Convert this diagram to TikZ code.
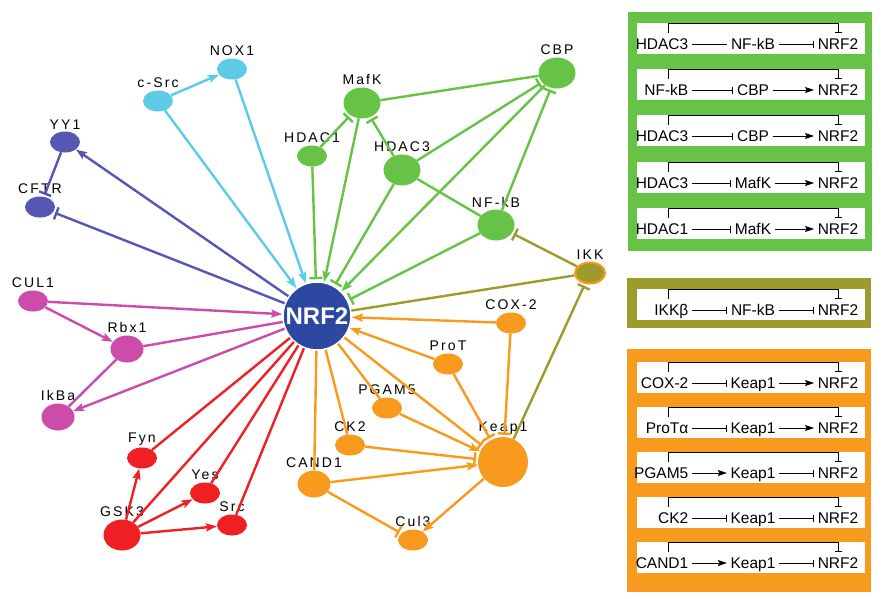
\documentclass[tikz,border=0pt]{standalone}
\usepackage{fontspec}
\setmainfont{Liberation Sans}
\newfontfamily\lblfont[LetterSpace=15]{Liberation Sans}
\usetikzlibrary{shapes.geometric, arrows.meta}

\definecolor{cyanC}{HTML}{5DCBE6}
\definecolor{blueC}{HTML}{5557B3}
\definecolor{greenC}{HTML}{67C345}
\definecolor{magC}{HTML}{CD4BA9}
\definecolor{redC}{HTML}{EE2024}
\definecolor{orangeC}{HTML}{F89A1D}
\definecolor{oliveC}{HTML}{9C9B2B}
\definecolor{nrfC}{HTML}{2C48A1}

\begin{document}
\begin{tikzpicture}[x=1pt, y=-1pt]
        % Styles
        \tikzstyle{lbl} = [font=\lblfont\fontsize{14}{16}\selectfont, inner sep=2pt]
        \tikzstyle{gene} = [ellipse, inner sep=0pt, label distance=1pt]
        \tikzstyle{sgene} = [gene, minimum width=30pt, minimum height=21pt]
        \tikzstyle{mgene} = [gene, minimum width=33pt, minimum height=27pt]
        \tikzstyle{lgene} = [gene, minimum width=37pt, minimum height=31pt]
        \tikzstyle{edge} = [line width=2.4pt]
        \tikzstyle{act} = [edge, -{Stealth[length=11pt, width=8pt, inset=2pt]}]
        \tikzstyle{inh} = [edge, -{Bar[width=13pt]}, shorten >=2pt]
        \tikzstyle{lnk} = [edge]
        \tikzstyle{rtxt} = [font=\fontsize{15.5}{17}\selectfont, inner sep=3.5pt, text height=11pt, text depth=0pt]
        \tikzstyle{rlnk} = [line width=0.9pt]
        \tikzstyle{ract} = [rlnk, -{Stealth[length=9pt, width=6pt, inset=1.5pt]}]
        \tikzstyle{rinh} = [rlnk, -{Bar[width=7pt]}]

        \useasboundingbox (0,0) rectangle (884,598);

        % Centre
        \node[circle, fill=nrfC, draw=white, line width=1.5pt, minimum size=68pt, inner sep=0pt,
              text=white, font=\fontsize{24}{26}\selectfont\bfseries] (nrf2) at (317,316) {NRF2};

        % Noeuds
        \node[sgene, fill=cyanC, label={[lbl]above:NOX1}] (nox1) at (232,69) {};
        \node[sgene, fill=cyanC, label={[lbl]above:c-Src}] (csrc) at (158,101) {};
        \node[sgene, fill=blueC, label={[lbl]above:YY1}] (yy1) at (65,142) {};
        \node[sgene, fill=blueC, label={[lbl]above:CFTR}] (cftr) at (40,207) {};
        \node[sgene, fill=magC, label={[lbl]above:CUL1}] (cul1) at (33,301) {};
        \node[mgene, fill=magC, label={[lbl]above:Rbx1}] (rbx1) at (127,349) {};
        \node[mgene, fill=magC, label={[lbl]above:IkBa}] (ikba) at (58,417) {};
        \node[sgene, fill=redC, label={[lbl]above:Fyn}] (fyn) at (142,458) {};
        \node[sgene, fill=redC, label={[lbl]above:Yes}] (yes) at (205,493) {};
        \node[sgene, fill=redC, label={[lbl]above:Src}] (src) at (232,525) {};
        \node[lgene, fill=redC, label={[lbl]above:GSK3}] (gsk3) at (122,535) {};
        \node[lgene, fill=greenC, label={[lbl]above:MafK}] (mafk) at (362,103) {};
        \node[lgene, fill=greenC, label={[lbl]above:CBP}] (cbp) at (557,73) {};
        \node[sgene, fill=greenC, label={[lbl]above:HDAC1}] (hdac1) at (312,156) {};
        \node[lgene, fill=greenC, label={[lbl]above:HDAC3}] (hdac3) at (402,170) {};
        \node[lgene, fill=greenC, label={[lbl]above:NF-kB}] (nfkb) at (496,225) {};
        \node[sgene, fill=oliveC, draw=orangeC, line width=2pt, label={[lbl]above:IKK}] (ikk) at (590,273) {};
        \node[sgene, fill=orangeC, label={[lbl]above:COX-2}] (cox2) at (511,323) {};
        \node[sgene, fill=orangeC, label={[lbl]above:ProT}] (prot) at (448,364) {};
        \node[sgene, fill=orangeC, label={[lbl]above:PGAM5}] (pgam5) at (387,408) {};
        \node[sgene, fill=orangeC, label={[lbl]above:CK2}] (ck2) at (350,445) {};
        \node[mgene, fill=orangeC, label={[lbl]above:CAND1}] (cand1) at (314,484) {};
        \node[circle, fill=orangeC, minimum size=50pt, inner sep=0pt, label={[lbl]above:Keap1}] (keap1) at (503,462) {};
        \node[sgene, fill=orangeC, label={[lbl]above:Cul3}] (cul3) at (413,540) {};

        % Arcs cyan / bleu
        \draw[act, cyanC] (csrc) -- (nox1);
        \draw[act, cyanC] (csrc) -- (nrf2);
        \draw[act, cyanC] (nox1) -- (nrf2);
        \draw[act, blueC] (nrf2) -- (yy1);
        \draw[inh, blueC] (nrf2) -- (cftr);
        \draw[inh, blueC] (yy1) -- (cftr);

        % Arcs verts
        \draw[inh, greenC] (hdac1) -- (nrf2);
        \draw[inh, greenC] (hdac1) -- (mafk);
        \draw[act, greenC] (mafk) -- (nrf2);
        \draw[lnk, greenC] (mafk) -- (cbp);
        \draw[act, greenC] (cbp) -- (nrf2);
        \draw[inh, greenC] (hdac3) -- (mafk);
        \draw[inh, greenC] (hdac3) -- (nrf2);
        \draw[inh, greenC] (hdac3) -- (cbp);
        \draw[lnk, greenC] (hdac3) -- (nfkb);
        \draw[inh, greenC] (nfkb) -- (cbp);
        \draw[inh, greenC] (nfkb) -- (nrf2);

        % Arcs olive
        \draw[inh, oliveC] (ikk) -- (nfkb);
        \draw[lnk, oliveC] (ikk) -- (nrf2);
        \draw[inh, oliveC] (keap1) -- (ikk);

        % Arcs magenta
        \draw[act, magC] (cul1) -- (nrf2);
        \draw[act, magC] (cul1) -- (rbx1);
        \draw[lnk, magC] (rbx1) -- (nrf2);
        \draw[act, magC] (nrf2) -- (ikba);
        \draw[lnk, magC] (rbx1) -- (ikba);

        % Arcs rouges
        \draw[lnk, redC] (fyn) -- (nrf2);
        \draw[lnk, redC] (yes) -- (nrf2);
        \draw[lnk, redC] (src) -- (nrf2);
        \draw[lnk, redC] (gsk3) -- (nrf2);
        \draw[act, redC] (gsk3) -- (fyn);
        \draw[act, redC] (gsk3) -- (yes);
        \draw[act, redC] (gsk3) -- (src);

        % Arcs orange
        \draw[act, orangeC] (cox2) -- (nrf2);
        \draw[inh, orangeC] (cox2) -- (keap1);
        \draw[act, orangeC] (prot) -- (nrf2);
        \draw[inh, orangeC] (prot) -- (keap1);
        \draw[lnk, orangeC] (pgam5) -- (nrf2);
        \draw[act, orangeC] (pgam5) -- (keap1);
        \draw[inh, orangeC] (nrf2) -- (keap1);
        \draw[lnk, orangeC] (ck2) -- (nrf2);
        \draw[inh, orangeC] (ck2) -- (keap1);
        \draw[lnk, orangeC] (cand1) -- (nrf2);
        \draw[act, orangeC] (cand1) -- (keap1);
        \draw[inh, orangeC] (cand1) -- (cul3);
        \draw[act, orangeC] (keap1) -- (cul3);

        % Panneaux de droite
        \fill[greenC] (628,12) rectangle (872,251);
        \fill[oliveC] (627,278) rectangle (871,328);
        \fill[orangeC] (627,349) rectangle (871,592);

        \foreach \t/\a/\sa/\b/\sb [count=\i] in {
            23/HDAC3/rlnk/NF-kB/rinh, 69/NF-kB/rinh/CBP/ract, 115/HDAC3/rinh/CBP/ract,
            162/HDAC3/rinh/MafK/ract, 208/HDAC1/rinh/MafK/ract,
            289/IKKβ/rinh/NF-kB/rinh,
            362/COX-2/rinh/Keap1/ract, 407/ProTα/rinh/Keap1/ract, 452/PGAM5/ract/Keap1/rinh,
            497/CK2/rinh/Keap1/rinh, 542/CAND1/ract/Keap1/rinh} {
            \fill[white] (637,\t) rectangle (865,\t+31);
            \node[rtxt, anchor=east] (ra\i) at (692,\t+21) {\a};
            \node[rtxt] (rb\i) at (753,\t+21) {\b};
            \node[rtxt] (rn\i) at (838,\t+21) {NRF2};
            \draw[\sa] (ra\i) -- (rb\i);
            \draw[\sb] (rb\i) -- (rn\i);
            \draw[rinh] ([shift={(-24pt,2pt)}]ra\i.north east) -- ++(0pt,9pt) -| ([yshift=2pt]rn\i.north);
        }

    \end{tikzpicture}
\end{document}
